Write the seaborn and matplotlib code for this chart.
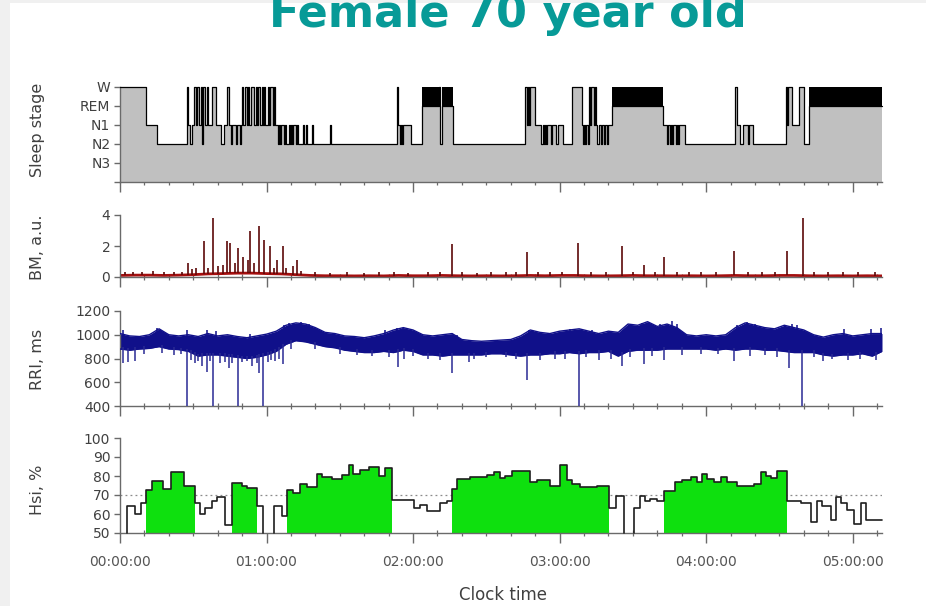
import numpy as np
import matplotlib
matplotlib.use("Agg")
import matplotlib.pyplot as plt
from matplotlib.patches import Rectangle
from matplotlib.ticker import MultipleLocator
import seaborn as sns

# ---------------------------------------------------------------
# Data (time axis in minutes after 00:00:00)
# ---------------------------------------------------------------

# Hypnogram as run lengths: (stage, duration in minutes)
STAGE_LEVELS = {"N3": 1, "N2": 2, "N1": 3, "REM": 4, "W": 5}
STAGE_TICK_LABELS = ["", "N3", "N2", "N1", "REM", "W"]
HYPNOGRAM = [
    ("W", 10.5), ("N1", 4.5), ("N2", 12.5),
    ("W", 0.5), ("N1", 0.5), ("N2", 1.0), ("N1", 1.0), ("W", 0.5), ("N1", 0.5),
    ("W", 1.0), ("N1", 0.5), ("W", 0.5), ("N2", 0.5), ("W", 1.0), ("N1", 0.5),
    ("W", 0.5), ("N1", 1.5), ("W", 2.0), ("N1", 2.0), ("N2", 1.0), ("N1", 1.5),
    ("W", 0.5), ("N1", 1.0), ("N2", 0.5), ("N1", 1.5), ("N2", 0.5), ("N1", 1.0),
    ("N2", 0.5), ("N1", 0.5),
    ("W", 0.5), ("N1", 0.5), ("W", 1.0), ("N1", 0.5), ("W", 0.5), ("N1", 0.5),
    ("W", 1.5), ("N1", 0.5), ("W", 0.5), ("N1", 0.5), ("W", 1.0), ("N1", 0.5),
    ("W", 0.5), ("N1", 0.5), ("W", 0.5), ("N1", 1.0), ("W", 0.5), ("N1", 0.5),
    ("W", 1.0), ("N1", 0.5), ("W", 0.5), ("N1", 1.0),
    ("N2", 0.5), ("N1", 0.5), ("N2", 0.5), ("N1", 1.0), ("N2", 0.5), ("N1", 0.5),
    ("N2", 1.0), ("N1", 0.5), ("N2", 0.5), ("N1", 0.5), ("N2", 0.5), ("N1", 1.0),
    ("N2", 0.5), ("N1", 0.5), ("N2", 2.0),
    ("N1", 0.5), ("N2", 0.5), ("N1", 0.5), ("N2", 2.0), ("N1", 0.5), ("N2", 7.0),
    ("N1", 0.5), ("N2", 27.0),
    ("W", 0.5), ("N1", 0.5), ("N2", 0.5), ("N1", 0.5), ("N2", 0.5), ("N1", 3.0),
    ("N2", 4.5), ("REM", 7.0), ("W", 0.5), ("N2", 1.0), ("REM", 4.5),
    ("N2", 29.5),
    ("W", 0.5), ("N1", 0.5), ("W", 0.5), ("N1", 0.5), ("W", 2.0),
    ("N1", 2.5), ("N2", 0.5), ("N1", 0.5), ("N2", 0.5), ("N1", 0.5), ("N2", 0.5),
    ("N1", 1.5), ("N2", 0.5), ("N1", 1.5), ("N2", 1.0), ("N1", 2.0), ("N2", 3.5),
    ("W", 4.0),
    ("N1", 0.5), ("N2", 0.5), ("N1", 0.5), ("N2", 0.5), ("N1", 0.5), ("N2", 0.5),
    ("W", 0.5), ("N1", 0.5), ("W", 1.0), ("N1", 0.5), ("W", 0.5),
    ("N1", 0.5), ("N2", 0.5), ("N1", 1.0), ("N2", 0.5), ("N1", 0.5), ("N2", 0.5),
    ("N1", 1.0), ("N2", 0.5), ("N1", 1.5),
    ("REM", 21.0),
    ("N1", 1.5), ("N2", 0.5), ("N1", 0.5), ("N2", 0.5), ("N1", 0.5), ("N2", 0.5),
    ("N1", 1.0), ("N2", 0.5), ("N1", 0.5), ("N2", 0.5), ("N1", 2.5),
    ("N2", 20.5),
    ("W", 0.5), ("N1", 1.5), ("N2", 1.0), ("N1", 2.0), ("N2", 0.5), ("N1", 1.5),
    ("N2", 13.5),
    ("W", 0.5), ("N1", 0.5), ("W", 1.5), ("N1", 3.0), ("W", 2.0), ("N2", 2.0),
    ("REM", 30.0),
]

# Body movement: slow baseline (every 6 min) and movement bursts
BM_TIME = list(range(0, 313, 6))
BM_BASE = [0.10, 0.12, 0.12, 0.10, 0.12, 0.15, 0.20, 0.22, 0.25, 0.25, 0.22, 0.20,
           0.15, 0.10, 0.08, 0.08, 0.07, 0.08, 0.07, 0.10, 0.08, 0.08, 0.10, 0.08,
           0.07, 0.08, 0.07, 0.08, 0.10, 0.08, 0.10, 0.10, 0.08, 0.07, 0.08, 0.10,
           0.08, 0.08, 0.07, 0.08, 0.07, 0.08, 0.10, 0.08, 0.08, 0.10, 0.10, 0.08,
           0.07, 0.08, 0.07, 0.08, 0.07]
BM_BURST_T = [2.0, 5.5, 9.0, 13.6, 18.0, 22.0, 25.5, 27.9, 29.5, 31.0, 34.4, 36.0,
              38.1, 40.0, 42.0, 43.8, 45.1, 47.0, 48.4, 50.4, 52.5, 53.3, 55.0, 57.0,
              59.0, 61.5, 63.0, 64.3, 66.8, 68.0, 70.9, 72.5, 74.0, 80.0, 86.0, 93.0,
              100.0, 106.0, 112.0, 118.0, 126.0, 131.0, 136.1, 140.0, 146.0, 152.0,
              158.0, 162.0, 166.8, 171.0, 176.0, 181.0, 187.7, 193.0, 199.0, 205.7,
              210.0, 214.7, 219.0, 222.9, 228.0, 233.0, 238.0, 244.0, 251.6, 257.0,
              263.0, 268.0, 273.3, 279.5, 284.0, 290.0, 296.0, 302.0, 309.0]
BM_BURST_H = [0.35, 0.30, 0.30, 0.40, 0.30, 0.35, 0.30, 0.90, 0.50, 0.60, 2.30, 0.60,
              3.80, 0.70, 0.80, 2.30, 2.20, 0.90, 1.90, 1.30, 1.10, 3.00, 0.90, 3.30,
              2.40, 2.00, 0.60, 1.10, 2.00, 0.60, 0.70, 1.10, 0.40, 0.30, 0.25, 0.30,
              0.25, 0.30, 0.30, 0.25, 0.30, 0.30, 2.10, 0.30, 0.25, 0.30,
              0.30, 0.35, 1.60, 0.35, 0.30, 0.30, 2.20, 0.35, 0.30, 2.00,
              0.35, 0.80, 0.30, 1.30, 0.30, 0.35, 0.30, 0.30, 1.70, 0.30,
              0.30, 0.35, 1.70, 3.80, 0.30, 0.35, 0.30, 0.30, 0.35]

# RR interval: envelope of beat-to-beat values (every 4 min)
RRI_TIME = list(range(0, 313, 4))
RRI_HIGH = [1010, 990, 985, 1000, 1050, 1000, 990, 1000, 985, 1010, 990, 1000,
            985, 975, 990, 1005, 1030, 1080, 1100, 1090, 1060, 1020, 1010, 990,
            985, 975, 990, 1010, 1040, 1060, 1040, 1000, 990, 1000, 1010, 960,
            950, 945, 950, 955, 960, 990, 1040, 1020, 1010, 1030, 1040, 1050,
            1030, 1010, 1030, 1020, 1090, 1080, 1110, 1070, 1090, 1060, 1000, 990,
            1000, 990, 1000, 1060, 1100, 1080, 1060, 1050, 1080, 1060, 1040, 1000,
            980, 1000, 1010, 990, 1000, 1010, 1010]
RRI_LOW = [880, 870, 880, 885, 900, 880, 875, 860, 820, 830, 830, 820,
           810, 800, 810, 830, 860, 920, 950, 940, 920, 900, 890, 870,
           860, 850, 850, 860, 850, 870, 860, 830, 830, 820, 830, 830,
           830, 830, 840, 840, 830, 820, 830, 830, 840, 840, 850, 840,
           850, 850, 860, 820, 860, 870, 870, 870, 880, 880, 880, 880,
           880, 870, 880, 870, 880, 880, 870, 870, 860, 850, 850, 850,
           830, 820, 830, 830, 840, 820, 860]
# short beats (downward excursions) and long beats (upward excursions)
RRI_DIP_T = [1.3, 3.3, 6.1, 27.3, 30.7, 33.5, 35.5, 38.2, 41.0, 44.5, 48.5, 51.9,
             54.0, 57.1, 58.7, 60.8, 63.5, 66.9, 114.0, 116.1, 135.9, 142.7, 166.7,
             187.8, 196.0, 205.6, 214.4, 222.6, 251.6, 273.9, 279.4, 291.7, 309.4,
             10.0, 17.0, 22.0, 25.0, 29.0, 32.0, 37.0, 43.0, 46.0, 50.0, 56.0, 62.0,
             65.0, 70.0, 80.0, 90.0, 97.0, 103.0, 110.0, 120.0, 126.0, 131.0, 145.0,
             150.0, 158.0, 162.0, 172.0, 178.0, 182.0, 191.0, 201.0, 209.0, 218.0,
             230.0, 238.0, 245.0, 258.0, 264.0, 269.0, 284.0, 288.0, 298.0, 303.0]
RRI_DIP_V = [760, 770, 780, 400, 760, 740, 690, 400, 760, 720, 400, 780,
             740, 680, 400, 770, 780, 750, 730, 800, 680, 770, 620,
             400, 790, 740, 750, 790, 780, 720, 400, 800, 790,
             840, 850, 830, 840, 790, 780, 780, 770, 760, 770, 760, 790,
             800, 880, 880, 840, 830, 820, 810, 820, 800, 790, 800,
             810, 810, 800, 790, 800, 800, 810, 800, 810, 820,
             830, 840, 840, 820, 830, 810, 810, 780, 790, 800]
RRI_PEAK_T = [1.3, 15.0, 27.3, 35.5, 39.5, 53.4, 67.0, 69.0, 71.0, 74.0, 77.4,
              108.5, 113.4, 116.0, 138.0, 167.3, 169.3, 184.3, 193.2, 200.7, 211.6,
              213.7, 221.2, 226.0, 228.0, 252.6, 256.7, 260.1, 275.1, 277.2, 296.3,
              307.3, 311.4]
RRI_PEAK_V = [1040, 1060, 1040, 1040, 1030, 1010, 1080, 1100, 1090, 1110, 1090,
              1040, 1060, 1060, 1000, 1040, 1030, 1050, 1040, 1020, 1070,
              1100, 1090, 1120, 1090, 1080, 1110, 1090, 1090, 1080, 1050,
              1050, 1060]

# Heart-rate stability index: step values between consecutive edges (NaN = no data)
HSI_EDGES = [3.0, 6.1, 8.5, 10.7, 13.0, 17.8, 20.8, 26.0, 30.7, 32.8, 34.8, 37.6,
             39.9, 43.0, 45.8, 49.9, 51.9, 56.0, 58.5, 63.1, 66.3, 68.3, 71.0, 73.8,
             76.5, 80.6, 82.6, 86.7, 90.8, 93.6, 95.6, 98.4, 101.8, 105.9, 108.6,
             111.3, 120.2, 122.9, 125.7, 131.1, 133.9, 135.9, 138.0, 143.4, 150.3,
             153.0, 155.7, 157.8, 160.5, 168.0, 170.8, 176.2, 180.3, 183.0, 185.1,
             188.5, 195.3, 200.4, 202.9, 206.3, 210.4, 213.1, 215.1, 217.2, 219.9,
             222.9, 227.4, 230.2, 233.6, 236.3, 238.4, 240.4, 243.1, 245.9, 248.6,
             252.7, 259.5, 262.3, 264.3, 266.4, 269.1, 273.2, 278.7, 282.8, 285.5,
             287.5, 291.0, 293.0, 295.1, 297.8, 300.5, 303.3, 305.3, 312.1]
HSI_VALUES = [64, 60, 66, 72.5, 77.5, 73, 82, 75, 66, 60, 63, 67,
              69, 54, 76.5, 75, 73.5, 64, np.nan, 64, 59, 72.5, 71, 76,
              74, 81, 79.5, 78.5, 80.5, 86, 81, 83, 85, 80, 84,
              67.5, 63, 65, 61.5, 66, 67, 73, 78.5, 79.5,
              80.5, 82, 79, 80, 82.5, 77, 78, 75, 86, 78,
              76, 74, 74.5, 63, 69.5, np.nan, 63, 69.5, 67, 68,
              67, 72, 77, 78, 79.5, 77, 81, 78.5, 77, 79.5,
              77, 75, 76, 82, 80, 79, 82.5, 67, 66, 56,
              67, 64, 57, 69, 66, 62, 55, 66, 57]
HSI_THRESHOLD = 70

HOUR_TICKS = [0, 60, 120, 180, 240, 300]
HOUR_LABELS = ["00:00:00", "01:00:00", "02:00:00", "03:00:00", "04:00:00", "05:00:00"]
T_END = 312

# ---------------------------------------------------------------
# Styling
# ---------------------------------------------------------------
sns.set_theme(style="ticks")
plt.rcParams["font.family"] = ["DejaVu Sans"]

AXIS_GREY = "#6a6a6a"
TEXT_GREY = "#404040"
STAGE_GREY = "#c0c0c0"
BM_RED = "#a50f0f"
BM_DARK = "#5c0808"
RRI_NAVY = "#10108a"
HSI_GREEN = "#0ee00e"
TITLE_TEAL = "#079a97"

W_PX, H_PX = 926, 606
fig = plt.figure(figsize=(W_PX / 100, H_PX / 100), dpi=100, facecolor="#f0f0f0")
fig.patches.append(Rectangle((10 / W_PX, 0), 1 - 10 / W_PX, 1 - 3 / H_PX,
                             transform=fig.transFigure, facecolor="white",
                             edgecolor="none", zorder=-5))


def panel(top_px, bottom_px):
    left, right = 120, 882
    return fig.add_axes([left / W_PX, 1 - bottom_px / H_PX,
                         (right - left) / W_PX, (bottom_px - top_px) / H_PX])


def style_axis(ax, ylabel, label_y, show_time_labels=False):
    ax.set_facecolor("none")
    ax.set_xlim(0, T_END)
    for side in ("top", "right"):
        ax.spines[side].set_visible(False)
    for side in ("left", "bottom"):
        ax.spines[side].set_color(AXIS_GREY)
        ax.spines[side].set_linewidth(1.0)
    ax.set_xticks(HOUR_TICKS)
    ax.xaxis.set_minor_locator(MultipleLocator(10))
    ax.tick_params(axis="x", which="major", direction="out", length=7, width=1.0,
                   color=AXIS_GREY, labelsize=10, labelcolor="#555555", pad=9)
    ax.tick_params(axis="x", which="minor", direction="inout", length=5, width=0.9,
                   color=AXIS_GREY)
    ax.tick_params(axis="y", which="major", direction="out", length=4, width=1.0,
                   color=AXIS_GREY, labelsize=10, labelcolor=TEXT_GREY, pad=3)
    if show_time_labels:
        ax.set_xticklabels(HOUR_LABELS)
    else:
        ax.tick_params(axis="x", which="both", labelbottom=False)
    ax.set_xlabel("")
    ax.set_ylabel(ylabel, fontsize=11.5, color=TEXT_GREY)
    ax.yaxis.set_label_coords(-0.098, label_y)


def runs(mask):
    """Yield (first, last) index pairs of consecutive True entries."""
    start = None
    for i, m in enumerate(mask):
        if m and start is None:
            start = i
        if not m and start is not None:
            yield start, i - 1
            start = None
    if start is not None:
        yield start, len(mask) - 1


# ---------------- Sleep stage panel ----------------
ax1 = panel(87, 182)
stages = [s for s, _ in HYPNOGRAM]
levels = np.array([STAGE_LEVELS[s] for s in stages], dtype=float)
edges = np.concatenate([[0.0], np.cumsum([d for _, d in HYPNOGRAM])])
levels_ext = np.append(levels, levels[-1])
ax1.fill_between(edges, 0, levels_ext, step="post", color=STAGE_GREY, lw=0, zorder=1)
for i0, i1 in runs([s == "REM" for s in stages]):
    ax1.fill_between([edges[i0], edges[i1 + 1]], STAGE_LEVELS["REM"], STAGE_LEVELS["W"],
                     color="black", lw=0, zorder=2)
ax1.step(edges, levels_ext, where="post", color="black", lw=0.9, zorder=3, clip_on=False)
ax1.set_ylim(0, 5)
ax1.set_yticks(range(6))
ax1.set_yticklabels(STAGE_TICK_LABELS)
style_axis(ax1, "Sleep stage", 0.55)

# ---------------- Body movement panel ----------------
ax2 = panel(215, 277)
sns.lineplot(x=BM_TIME, y=BM_BASE, ax=ax2, color=BM_RED, lw=2.0, zorder=2)
burst_base = np.interp(BM_BURST_T, BM_TIME, BM_BASE)
ax2.vlines(BM_BURST_T, burst_base, BM_BURST_H, color=BM_DARK, lw=1.2, zorder=3)
ax2.set_ylim(0, 4)
ax2.set_yticks([0, 2, 4])
style_axis(ax2, "BM, a.u.", 0.48)

# ---------------- RR interval panel ----------------
ax3 = panel(311, 406)
ax3.fill_between(RRI_TIME, RRI_LOW, RRI_HIGH, color=RRI_NAVY, lw=0, zorder=2)
sns.lineplot(x=RRI_TIME, y=RRI_HIGH, ax=ax3, color=RRI_NAVY, lw=1.0, zorder=3)
sns.lineplot(x=RRI_TIME, y=RRI_LOW, ax=ax3, color=RRI_NAVY, lw=1.0, zorder=3)
dip_base = np.interp(RRI_DIP_T, RRI_TIME, RRI_LOW)
ax3.vlines(RRI_DIP_T, RRI_DIP_V, dip_base + 20, color="#2a2a94", lw=1.1, zorder=3)
peak_base = np.interp(RRI_PEAK_T, RRI_TIME, RRI_HIGH)
ax3.vlines(RRI_PEAK_T, peak_base - 20, RRI_PEAK_V, color=RRI_NAVY, lw=1.1, zorder=3)
ax3.set_ylim(400, 1200)
ax3.set_yticks(range(400, 1201, 200))
style_axis(ax3, "RRI, ms", 0.49)

# ---------------- Hsi panel ----------------
ax4 = panel(438, 533)
ax4.axhline(HSI_THRESHOLD, color="#8a8a8a", lw=0.9, ls=(0, (1.5, 2.5)), zorder=1)
h_edges = np.array(HSI_EDGES)
h_vals = np.array(HSI_VALUES, dtype=float)

# green where the index stays above the threshold
for i0, i1 in runs(np.nan_to_num(h_vals) > HSI_THRESHOLD):
    xs = h_edges[i0:i1 + 2]
    ys = np.append(h_vals[i0:i1 + 1], h_vals[i1])
    ax4.fill_between(xs, 50, ys, step="post", color=HSI_GREEN, lw=0, zorder=2)

# outline of every recorded stretch
for i0, i1 in runs(~np.isnan(h_vals)):
    px, py = [h_edges[i0]], [50.0]
    for k in range(i0, i1 + 1):
        px += [h_edges[k], h_edges[k + 1]]
        py += [h_vals[k], h_vals[k]]
    if h_edges[i1 + 1] < T_END:
        px.append(h_edges[i1 + 1])
        py.append(50.0)
    ax4.plot(px, py, color="#1e1e1e", lw=1.2, zorder=3, clip_on=False)

ax4.set_ylim(50, 100)
ax4.set_yticks(range(50, 101, 10))
style_axis(ax4, "Hsi, %", 0.45, show_time_labels=True)

fig.text(503 / W_PX, 1 - 595 / H_PX, "Clock time", ha="center", va="center",
         fontsize=12, color=TEXT_GREY)
fig.text(508 / W_PX, 1 - 27 / H_PX, "Female 70 year old", ha="center", va="baseline",
         fontsize=32, fontweight="bold", color=TITLE_TEAL)

fig.savefig("out.png", dpi=100, facecolor=fig.get_facecolor())
